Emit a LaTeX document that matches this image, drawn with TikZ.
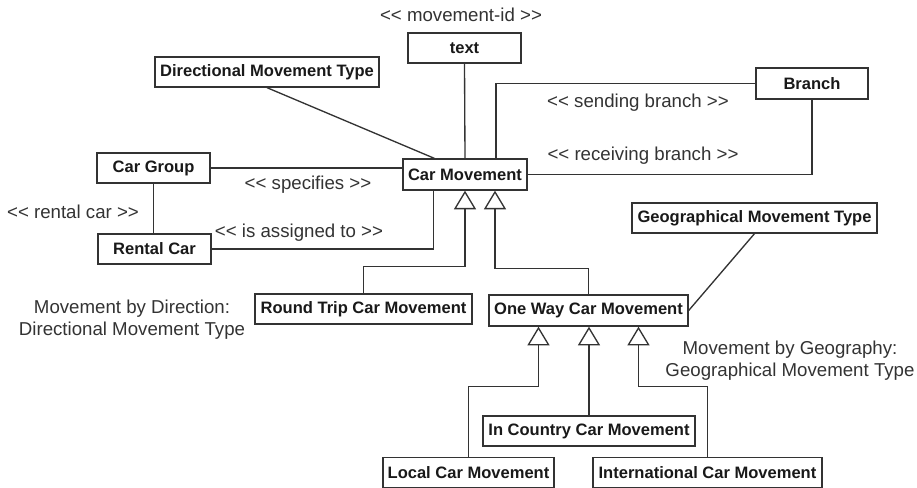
\documentclass[tikz,border=0pt]{standalone}
\usepackage{fontspec}
\setmainfont{Liberation Sans}
\usetikzlibrary{arrows.meta,calc}
\tikzset{
  cls/.style={draw=black!80, line width=1pt, fill=white, inner sep=0pt,
    font=\fontsize{12.4}{14}\selectfont\bfseries, text=black!90},
  lbl/.style={inner sep=0pt, font=\fontsize{14}{16.5}\selectfont, text=black!80, align=center},
  assoc/.style={draw=black!80, line width=1pt},
  gen/.style={assoc, -{Triangle[open, width=16.5pt, length=14pt, fill=white]}},
}
\begin{document}
\begin{tikzpicture}[x=0.75pt, y=-0.75pt]
\useasboundingbox (0,0) rectangle (917,488);

% classes
\node[cls, minimum width=113*0.75pt, minimum height=30*0.75pt] (text)   at (464.5,48)  {text};
\node[cls, minimum width=224*0.75pt, minimum height=30*0.75pt] (dmt)    at (267,72)    {Directional Movement Type};
\node[cls, minimum width=113*0.75pt, minimum height=30*0.75pt] (grp)    at (153.5,168) {Car Group};
\node[cls, minimum width=124*0.75pt, minimum height=31*0.75pt] (cm)     at (465,174.5) {Car Movement};
\node[cls, minimum width=112*0.75pt, minimum height=31*0.75pt] (branch) at (812,83.5)  {Branch};
\node[cls, minimum width=113*0.75pt, minimum height=30*0.75pt] (rental) at (154.5,249) {Rental Car};
\node[cls, minimum width=217*0.75pt, minimum height=30*0.75pt] (round)  at (363.5,309) {Round Trip Car Movement};
\node[cls, minimum width=199*0.75pt, minimum height=31*0.75pt] (oneway) at (588.5,310.5) {One Way Car Movement};
\node[cls, minimum width=245*0.75pt, minimum height=30*0.75pt] (geo)    at (754.5,218) {Geographical Movement Type};
\node[cls, minimum width=212*0.75pt, minimum height=30*0.75pt] (incty)  at (589,431)   {In Country Car Movement};
\node[cls, minimum width=171*0.75pt, minimum height=30*0.75pt] (local)  at (468.5,472.5) {Local Car Movement};
\node[cls, minimum width=229*0.75pt, minimum height=30*0.75pt] (intl)   at (707.5,472.5) {International Car Movement};

% associations
\draw[assoc] (text.south) -- (cm.north);
\draw[assoc] (dmt.south) -- ($(cm.north west)+(32,0)$);
\draw[assoc] ($(cm.north)+(31,0)$) |- (branch.west);
\draw[assoc] (branch.south) |- (cm.east);
\draw[assoc] (grp.east) -- (grp.east -| cm.west);
\draw[assoc] (grp.south) -- (grp.south |- rental.north);
\draw[assoc] (rental.east) -| ($(cm.south west)+(31,0)$);
\draw[assoc] (geo.south) -- (oneway.east);

% generalizations
\draw[gen] (round.north) |- ($(cm.south)+(0,76)$) -- (cm.south);
\draw[gen] (oneway.north) |- ($(cm.south)+(30,78)$) -- ($(cm.south)+(30,0)$);
\draw[gen] (local.north) |- ($(oneway.south)+(-50,60)$) -- ($(oneway.south)+(-50,0)$);
\draw[gen] (incty.north) -- (incty.north |- oneway.south);
\draw[gen] (intl.north) |- ($(oneway.south)+(50,60)$) -- ($(oneway.south)+(50,0)$);

% role labels
\node[lbl] (l1) at (461,15)  {<{}< movement-id >{}>};
\node[lbl] (l2) at (638,103) {<{}< sending branch >{}>};
\node[lbl] (l3) at (643,156) {<{}< receiving branch >{}>};
\node[lbl] (l4) at (308,185) {<{}< specifies >{}>};
\node[lbl] (l5) at (73,212)  {<{}< rental car >{}>};
\node[lbl] (l6) at (299,233) {<{}< is assigned to >{}>};
\node[lbl] (l7) at (132,320) {Movement by Direction:\\Directional Movement Type};
\node[lbl] (l8) at (790,361) {Movement by Geography:\\Geographical Movement Type};
\end{tikzpicture}
\end{document}
